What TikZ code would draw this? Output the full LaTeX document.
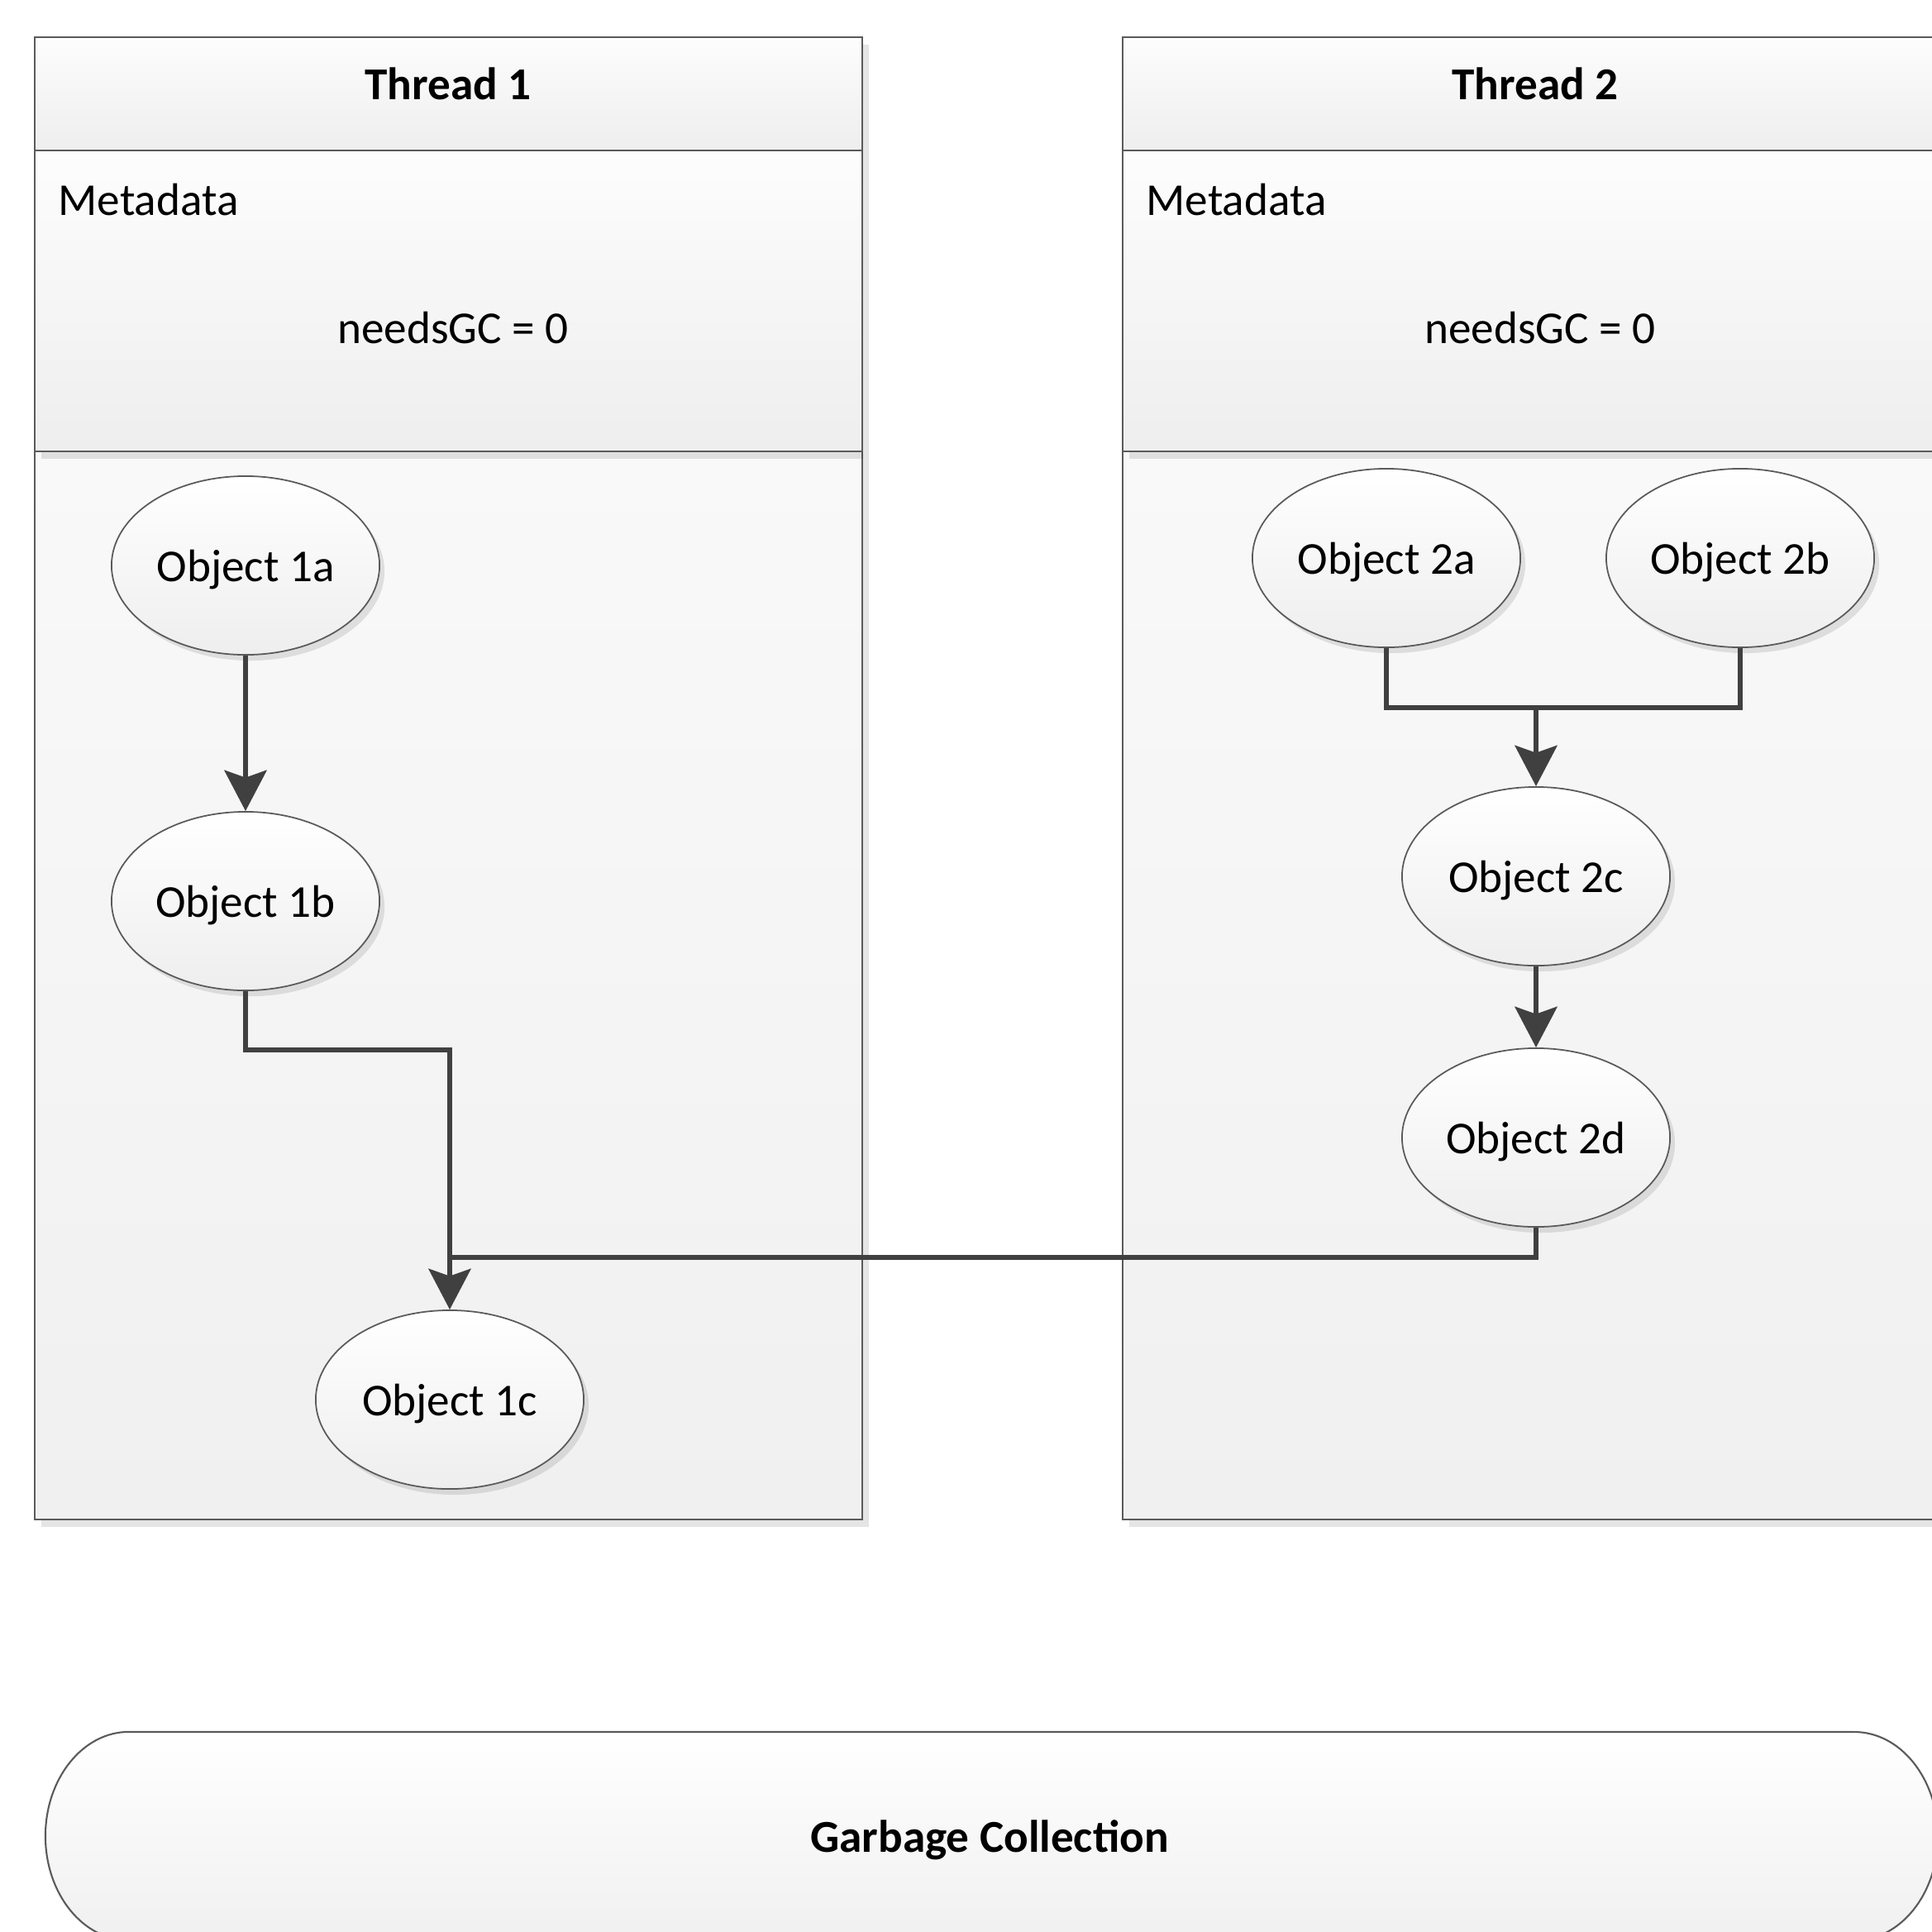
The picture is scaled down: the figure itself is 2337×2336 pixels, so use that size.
\documentclass[tikz,border=0pt]{standalone}
\usepackage{fontspec}
\setmainfont{Carlito}
\usetikzlibrary{shapes.geometric,arrows.meta,shadows}
\definecolor{edgegray}{HTML}{5A5A5A}
\definecolor{arrowgray}{HTML}{404040}
\definecolor{shadeA}{HTML}{FDFDFD}
\definecolor{shadeB}{HTML}{EEEEEE}
\definecolor{bodyA}{HTML}{F9F9F9}
\definecolor{bodyB}{HTML}{F0F0F0}
\begin{document}
\begin{tikzpicture}[x=0.01cm,y=-0.01cm,
  font=\fontsize{15.7}{19}\selectfont,
  softshadow/.style={drop shadow={shadow xshift=0.08cm, shadow yshift=-0.09cm, fill=black, opacity=0.10}},
  section/.style={draw=edgegray, line width=0.7pt, top color=shadeA, bottom color=shadeB, softshadow},
  bodysec/.style={draw=edgegray, line width=0.7pt, top color=bodyA, bottom color=bodyB, softshadow},
  obj/.style={ellipse, draw=edgegray, line width=0.5pt, top color=white, bottom color=shadeB,
    minimum width=3.24cm, minimum height=2.16cm, inner sep=0pt, text depth=0pt,
    drop shadow={shadow xshift=0.06cm, shadow yshift=-0.07cm, fill=black, opacity=0.10}},
  conn/.style={draw=arrowgray, line width=1.8pt, line join=miter},
  arr/.style={conn, -{Stealth[length=14pt,width=14.5pt,inset=2.5pt]}},
  lbl/.style={inner sep=0pt, text depth=0pt},
  title/.style={lbl, font=\fontsize{15.7}{19}\selectfont\bfseries}
]
\useasboundingbox (0,0) rectangle (2337,2336);
\clip (0,0) rectangle (2337,2336);
\fill[white] (0,0) rectangle (2337,2336);

% Thread 1 box
\path[section] (42,45) rectangle (1043,182);
\path[bodysec] (42,546) rectangle (1043,1838);
\path[section] (42,182) rectangle (1043,546);
\node[title] (t1) at (542,101) {Thread 1};
\node[lbl, anchor=west] (m1) at (70,241) {Metadata};
\node[lbl] (g1) at (548,396) {needsGC = 0};

% Thread 2 box
\path[section] (1358,45) rectangle (2359,182);
\path[bodysec] (1358,546) rectangle (2359,1838);
\path[section] (1358,182) rectangle (2359,546);
\node[title] (t2) at (1857,101) {Thread 2};
\node[lbl, anchor=west] (m2) at (1386,241) {Metadata};
\node[lbl] (g2) at (1863,396) {needsGC = 0};

% Objects
\node[obj] (o1a) at (297,684) {Object 1a};
\node[obj] (o1b) at (297,1090) {Object 1b};
\node[obj] (o1c) at (544,1693) {Object 1c};
\node[obj] (o2a) at (1677,675) {Object 2a};
\node[obj] (o2b) at (2105,675) {Object 2b};
\node[obj] (o2c) at (1858,1060) {Object 2c};
\node[obj] (o2d) at (1858,1376) {Object 2d};

\coordinate (j1) at (544,1521);
\coordinate (j2) at (1858,856);
\coordinate (j3) at (544,1270);

% Connectors
\draw[arr] (o1a.south) -- (o1b.north);
\draw[conn] (o2d.south) |- (j1);
\draw[arr] (o1b.south) |- (j3) -- (o1c.north);
\draw[conn] (o2a.south) |- (j2) -| (o2b.south);
\draw[arr] (j2) -- (o2c.north);
\draw[arr] (o2c.south) -- (o2d.north);

% Garbage collection
\path[draw=edgegray, line width=0.6pt, top color=white, bottom color=bodyB]
  (156,2095) -- (2243,2095)
  arc[start angle=90, end angle=-90, x radius=1.01cm, y radius=1.26cm]
  -- (156,2347)
  arc[start angle=-90, end angle=-270, x radius=1.01cm, y radius=1.26cm] -- cycle;
\node[title] (gc) at (1197,2221) {Garbage Collection};
\end{tikzpicture}
\end{document}
